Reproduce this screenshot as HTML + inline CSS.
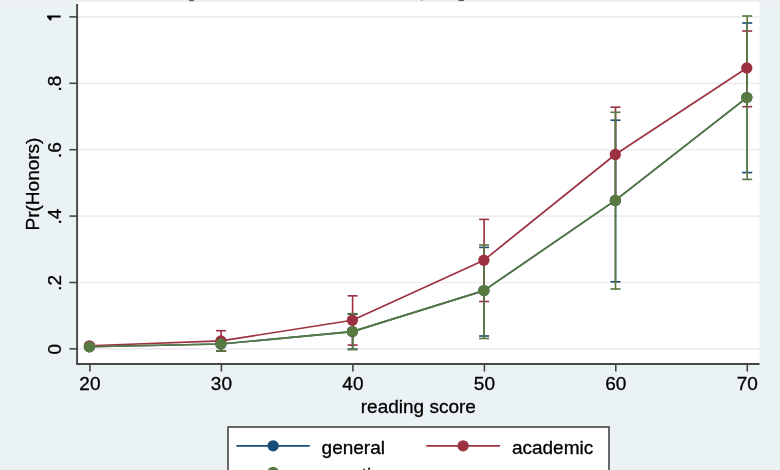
<!DOCTYPE html><html><head><meta charset="utf-8"><style>html,body{margin:0;padding:0;background:#EAF2F3;}svg{display:block;filter:blur(0.45px);}text{font-family:"Liberation Sans",sans-serif;fill:#000;stroke:#000;stroke-width:0.3px;}</style></head><body>
<svg width="780" height="470" viewBox="0 0 780 470">
<rect x="0" y="0" width="780" height="470" fill="#EAF2F3"/>
<rect x="0" y="0" width="780" height="1.8" fill="#EFEFEF"/>
<ellipse cx="191.5" cy="0.2" rx="2.6" ry="1.2" fill="#6a6a6a"/><ellipse cx="421.9" cy="0.1" rx="1.5" ry="0.8" fill="#aaa"/><ellipse cx="461.2" cy="0.2" rx="3" ry="1.1" fill="#5a5a5a"/>
<rect x="77" y="1.8" width="682.5" height="362.2" fill="#FFFFFF"/>
<line x1="77" x2="760" y1="348.90" y2="348.90" stroke="#EDEDED" stroke-width="1.7"/>
<line x1="77" x2="760" y1="282.50" y2="282.50" stroke="#EDEDED" stroke-width="1.7"/>
<line x1="77" x2="760" y1="216.10" y2="216.10" stroke="#EDEDED" stroke-width="1.7"/>
<line x1="77" x2="760" y1="149.70" y2="149.70" stroke="#EDEDED" stroke-width="1.7"/>
<line x1="77" x2="760" y1="83.30" y2="83.30" stroke="#EDEDED" stroke-width="1.7"/>
<line x1="77" x2="760" y1="16.90" y2="16.90" stroke="#EDEDED" stroke-width="1.7"/>
<line x1="89.60" x2="89.60" y1="346.00" y2="348.00" stroke="#1A4C78" stroke-width="1.65"/><line x1="84.60" x2="94.60" y1="346.00" y2="346.00" stroke="#1A4C78" stroke-width="1.65"/><line x1="84.60" x2="94.60" y1="348.00" y2="348.00" stroke="#1A4C78" stroke-width="1.65"/><line x1="221.10" x2="221.10" y1="344.00" y2="351.00" stroke="#1A4C78" stroke-width="1.65"/><line x1="216.10" x2="226.10" y1="344.00" y2="344.00" stroke="#1A4C78" stroke-width="1.65"/><line x1="216.10" x2="226.10" y1="351.00" y2="351.00" stroke="#1A4C78" stroke-width="1.65"/><line x1="352.60" x2="352.60" y1="314.20" y2="349.20" stroke="#1A4C78" stroke-width="1.65"/><line x1="347.60" x2="357.60" y1="314.20" y2="314.20" stroke="#1A4C78" stroke-width="1.65"/><line x1="347.60" x2="357.60" y1="349.20" y2="349.20" stroke="#1A4C78" stroke-width="1.65"/><line x1="484.10" x2="484.10" y1="247.40" y2="336.00" stroke="#1A4C78" stroke-width="1.65"/><line x1="479.10" x2="489.10" y1="247.40" y2="247.40" stroke="#1A4C78" stroke-width="1.65"/><line x1="479.10" x2="489.10" y1="336.00" y2="336.00" stroke="#1A4C78" stroke-width="1.65"/><line x1="615.50" x2="615.50" y1="120.20" y2="281.80" stroke="#1A4C78" stroke-width="1.65"/><line x1="610.50" x2="620.50" y1="120.20" y2="120.20" stroke="#1A4C78" stroke-width="1.65"/><line x1="610.50" x2="620.50" y1="281.80" y2="281.80" stroke="#1A4C78" stroke-width="1.65"/><line x1="747.20" x2="747.20" y1="23.00" y2="172.60" stroke="#1A4C78" stroke-width="1.65"/><line x1="742.20" x2="752.20" y1="23.00" y2="23.00" stroke="#1A4C78" stroke-width="1.65"/><line x1="742.20" x2="752.20" y1="172.60" y2="172.60" stroke="#1A4C78" stroke-width="1.65"/>
<line x1="89.60" x2="89.60" y1="344.00" y2="347.00" stroke="#9C3141" stroke-width="1.65"/><line x1="84.60" x2="94.60" y1="344.00" y2="344.00" stroke="#9C3141" stroke-width="1.65"/><line x1="84.60" x2="94.60" y1="347.00" y2="347.00" stroke="#9C3141" stroke-width="1.65"/><line x1="221.10" x2="221.10" y1="330.70" y2="351.00" stroke="#9C3141" stroke-width="1.65"/><line x1="216.10" x2="226.10" y1="330.70" y2="330.70" stroke="#9C3141" stroke-width="1.65"/><line x1="216.10" x2="226.10" y1="351.00" y2="351.00" stroke="#9C3141" stroke-width="1.65"/><line x1="352.60" x2="352.60" y1="295.80" y2="345.10" stroke="#9C3141" stroke-width="1.65"/><line x1="347.60" x2="357.60" y1="295.80" y2="295.80" stroke="#9C3141" stroke-width="1.65"/><line x1="347.60" x2="357.60" y1="345.10" y2="345.10" stroke="#9C3141" stroke-width="1.65"/><line x1="484.10" x2="484.10" y1="219.40" y2="301.50" stroke="#9C3141" stroke-width="1.65"/><line x1="479.10" x2="489.10" y1="219.40" y2="219.40" stroke="#9C3141" stroke-width="1.65"/><line x1="479.10" x2="489.10" y1="301.50" y2="301.50" stroke="#9C3141" stroke-width="1.65"/><line x1="615.50" x2="615.50" y1="107.20" y2="201.80" stroke="#9C3141" stroke-width="1.65"/><line x1="610.50" x2="620.50" y1="107.20" y2="107.20" stroke="#9C3141" stroke-width="1.65"/><line x1="610.50" x2="620.50" y1="201.80" y2="201.80" stroke="#9C3141" stroke-width="1.65"/><line x1="747.20" x2="747.20" y1="31.00" y2="106.70" stroke="#9C3141" stroke-width="1.65"/><line x1="742.20" x2="752.20" y1="31.00" y2="31.00" stroke="#9C3141" stroke-width="1.65"/><line x1="742.20" x2="752.20" y1="106.70" y2="106.70" stroke="#9C3141" stroke-width="1.65"/>
<line x1="89.60" x2="89.60" y1="346.00" y2="348.00" stroke="#587A40" stroke-width="1.65"/><line x1="84.60" x2="94.60" y1="346.00" y2="346.00" stroke="#587A40" stroke-width="1.65"/><line x1="84.60" x2="94.60" y1="348.00" y2="348.00" stroke="#587A40" stroke-width="1.65"/><line x1="221.10" x2="221.10" y1="344.00" y2="351.00" stroke="#587A40" stroke-width="1.65"/><line x1="216.10" x2="226.10" y1="344.00" y2="344.00" stroke="#587A40" stroke-width="1.65"/><line x1="216.10" x2="226.10" y1="351.00" y2="351.00" stroke="#587A40" stroke-width="1.65"/><line x1="352.60" x2="352.60" y1="313.70" y2="349.60" stroke="#587A40" stroke-width="1.65"/><line x1="347.60" x2="357.60" y1="313.70" y2="313.70" stroke="#587A40" stroke-width="1.65"/><line x1="347.60" x2="357.60" y1="349.60" y2="349.60" stroke="#587A40" stroke-width="1.65"/><line x1="484.10" x2="484.10" y1="245.00" y2="338.50" stroke="#587A40" stroke-width="1.65"/><line x1="479.10" x2="489.10" y1="245.00" y2="245.00" stroke="#587A40" stroke-width="1.65"/><line x1="479.10" x2="489.10" y1="338.50" y2="338.50" stroke="#587A40" stroke-width="1.65"/><line x1="615.50" x2="615.50" y1="112.30" y2="289.00" stroke="#587A40" stroke-width="1.65"/><line x1="610.50" x2="620.50" y1="112.30" y2="112.30" stroke="#587A40" stroke-width="1.65"/><line x1="610.50" x2="620.50" y1="289.00" y2="289.00" stroke="#587A40" stroke-width="1.65"/><line x1="747.20" x2="747.20" y1="16.00" y2="179.40" stroke="#587A40" stroke-width="1.65"/><line x1="742.20" x2="752.20" y1="16.00" y2="16.00" stroke="#587A40" stroke-width="1.65"/><line x1="742.20" x2="752.20" y1="179.40" y2="179.40" stroke="#587A40" stroke-width="1.65"/>
<polyline points="89.40,346.80 220.90,344.00 352.40,331.60 483.90,290.60 615.30,200.40 746.80,97.60" fill="none" stroke="#1A4C78" stroke-width="1.65" stroke-linejoin="round"/><circle cx="89.40" cy="346.80" r="5.65" fill="#1A4C78"/><circle cx="220.90" cy="344.00" r="5.65" fill="#1A4C78"/><circle cx="352.40" cy="331.60" r="5.65" fill="#1A4C78"/><circle cx="483.90" cy="290.60" r="5.65" fill="#1A4C78"/><circle cx="615.30" cy="200.40" r="5.65" fill="#1A4C78"/><circle cx="746.80" cy="97.60" r="5.65" fill="#1A4C78"/>
<polyline points="89.40,345.80 220.90,340.90 352.40,320.20 483.90,260.20 615.30,154.50 746.80,68.00" fill="none" stroke="#9C3141" stroke-width="1.65" stroke-linejoin="round"/><circle cx="89.40" cy="345.80" r="5.65" fill="#9C3141"/><circle cx="220.90" cy="340.90" r="5.65" fill="#9C3141"/><circle cx="352.40" cy="320.20" r="5.65" fill="#9C3141"/><circle cx="483.90" cy="260.20" r="5.65" fill="#9C3141"/><circle cx="615.30" cy="154.50" r="5.65" fill="#9C3141"/><circle cx="746.80" cy="68.00" r="5.65" fill="#9C3141"/>
<polyline points="89.40,346.80 220.90,344.00 352.40,331.60 483.90,290.60 615.30,200.40 746.80,97.60" fill="none" stroke="#587A40" stroke-width="1.65" stroke-linejoin="round"/><circle cx="89.40" cy="346.80" r="5.65" fill="#587A40"/><circle cx="220.90" cy="344.00" r="5.65" fill="#587A40"/><circle cx="352.40" cy="331.60" r="5.65" fill="#587A40"/><circle cx="483.90" cy="290.60" r="5.65" fill="#587A40"/><circle cx="615.30" cy="200.40" r="5.65" fill="#587A40"/><circle cx="746.80" cy="97.60" r="5.65" fill="#587A40"/>
<line x1="77.1" x2="77.1" y1="4" y2="364.9" stroke="#454545" stroke-width="1.9"/>
<line x1="76.2" x2="759.6" y1="364" y2="364" stroke="#454545" stroke-width="1.9"/>
<line x1="69.4" x2="77" y1="348.90" y2="348.90" stroke="#454545" stroke-width="1.6"/>
<line x1="69.4" x2="77" y1="282.50" y2="282.50" stroke="#454545" stroke-width="1.6"/>
<line x1="69.4" x2="77" y1="216.10" y2="216.10" stroke="#454545" stroke-width="1.6"/>
<line x1="69.4" x2="77" y1="149.70" y2="149.70" stroke="#454545" stroke-width="1.6"/>
<line x1="69.4" x2="77" y1="83.30" y2="83.30" stroke="#454545" stroke-width="1.6"/>
<line x1="69.4" x2="77" y1="16.90" y2="16.90" stroke="#454545" stroke-width="1.6"/>
<line x1="89.90" x2="89.90" y1="364" y2="371.5" stroke="#454545" stroke-width="1.6"/>
<line x1="221.40" x2="221.40" y1="364" y2="371.5" stroke="#454545" stroke-width="1.6"/>
<line x1="352.90" x2="352.90" y1="364" y2="371.5" stroke="#454545" stroke-width="1.6"/>
<line x1="484.40" x2="484.40" y1="364" y2="371.5" stroke="#454545" stroke-width="1.6"/>
<line x1="615.80" x2="615.80" y1="364" y2="371.5" stroke="#454545" stroke-width="1.6"/>
<line x1="747.30" x2="747.30" y1="364" y2="371.5" stroke="#454545" stroke-width="1.6"/>
<path d="M47.1,15.4 L60.7,15.4 L60.7,17.5 L51.9,17.5 L51.2,20.6 L49.8,20.6 L47.6,17.5 L47.1,17.4 Z" fill="#000"/>
<text transform="translate(61.4,349.30) rotate(-90)" text-anchor="middle" font-size="19.0">0</text>
<text transform="translate(61.4,282.90) rotate(-90)" text-anchor="middle" font-size="19.0">.2</text>
<text transform="translate(61.4,216.50) rotate(-90)" text-anchor="middle" font-size="19.0">.4</text>
<text transform="translate(61.4,150.10) rotate(-90)" text-anchor="middle" font-size="19.0">.6</text>
<text transform="translate(61.4,83.70) rotate(-90)" text-anchor="middle" font-size="19.0">.8</text>
<text x="89.90" y="390.2" text-anchor="middle" font-size="19.0">20</text>
<text x="221.40" y="390.2" text-anchor="middle" font-size="19.0">30</text>
<text x="352.90" y="390.2" text-anchor="middle" font-size="19.0">40</text>
<text x="484.40" y="390.2" text-anchor="middle" font-size="19.0">50</text>
<text x="615.80" y="390.2" text-anchor="middle" font-size="19.0">60</text>
<text x="747.30" y="390.2" text-anchor="middle" font-size="19.0">70</text>
<text transform="translate(38.6,184) rotate(-90)" text-anchor="middle" font-size="19.0">Pr(Honors)</text>
<text x="418.3" y="413" text-anchor="middle" font-size="19.0">reading score</text>
<rect x="228" y="427" width="381" height="60" fill="#FFFFFF" stroke="#3a3a3a" stroke-width="1.5"/>
<line x1="236.4" x2="309.7" y1="445.80" y2="445.80" stroke="#1A4C78" stroke-width="1.65"/>
<circle cx="273.1" cy="445.80" r="5.65" fill="#1A4C78"/>
<text x="321.6" y="453.8" font-size="19.0">general</text>
<line x1="426.3" x2="500.1" y1="445.80" y2="445.80" stroke="#9C3141" stroke-width="1.65"/>
<circle cx="463.1" cy="445.80" r="5.65" fill="#9C3141"/>
<text x="511.9" y="453.8" font-size="19.0">academic</text>
<line x1="236.4" x2="309.7" y1="472.30" y2="472.30" stroke="#587A40" stroke-width="1.65"/>
<circle cx="273.1" cy="472.30" r="5.65" fill="#587A40"/>
<text x="321.6" y="481.0" font-size="19.0">vocation</text>
</svg></body></html>
